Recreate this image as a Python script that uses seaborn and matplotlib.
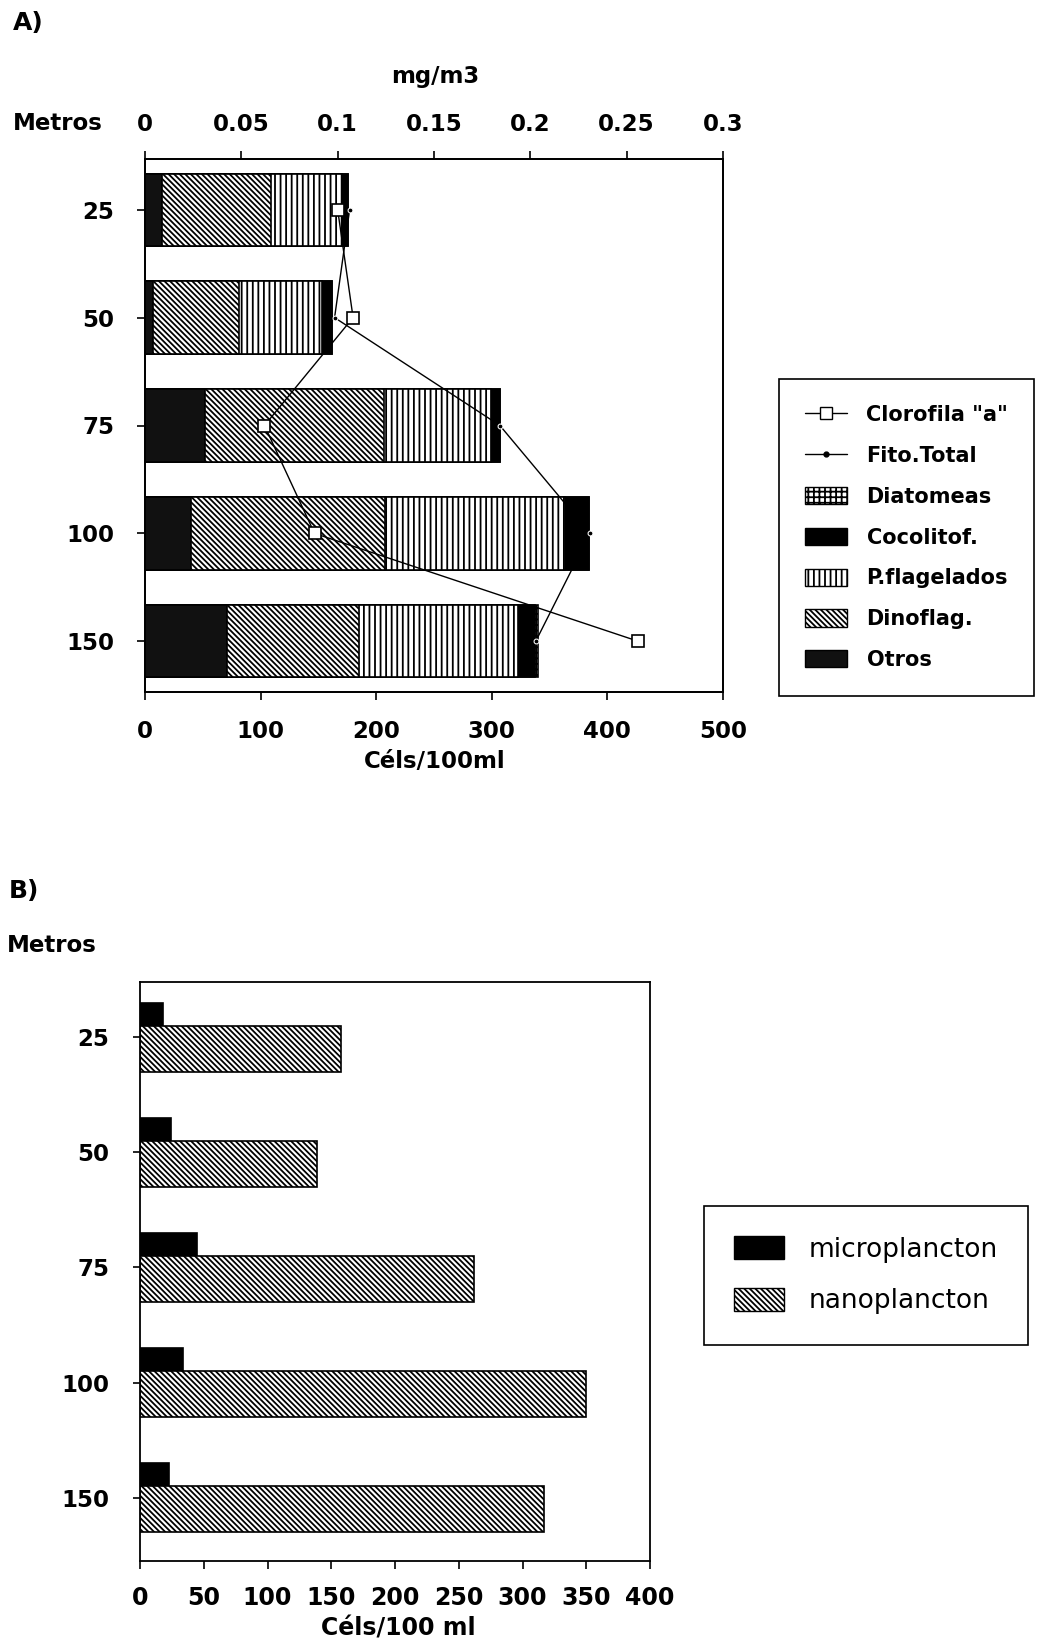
import numpy as np
import pandas as pd
import matplotlib
matplotlib.use("Agg")
import matplotlib.pyplot as plt
from matplotlib.patches import Patch
from matplotlib.lines import Line2D
import seaborn as sns

depths = ["25", "50", "75", "100", "150"]

# A) Cels/100ml por grupo, en el orden de apilado (izquierda -> derecha)
otros = [15, 7, 52, 40, 71]
dinoflag = [94, 74, 155, 168, 114]
pflagelados = [61, 72, 92, 155, 138]
cocolitof = [6, 9, 8, 21, 14]
diatomeas = [0, 0, 0, 0, 3]
fito_total = [177, 164, 307, 385, 338]
clorofila = [0.100, 0.108, 0.062, 0.088, 0.256]  # mg/m3

# B) Cels/100 ml
microplancton = [18, 24, 45, 34, 23]
nanoplancton = [158, 139, 262, 350, 317]

cel_ticks = [0, 100, 200, 300, 400, 500]
chl_ticks = [0, 0.05, 0.1, 0.15, 0.2, 0.25, 0.3]
chl_ticklabels = ["0", "0.05", "0.1", "0.15", "0.2", "0.25", "0.3"]
b_ticks = [0, 50, 100, 150, 200, 250, 300, 350, 400]

sns.set_style("ticks", rc={"axes.edgecolor": "black", "text.color": "black",
                           "axes.labelcolor": "black", "xtick.color": "black",
                           "ytick.color": "black"})
plt.rcParams["font.family"] = ["DejaVu Sans"]
plt.rcParams["font.weight"] = "bold"
plt.rcParams["hatch.linewidth"] = 1.3
plt.rcParams["axes.linewidth"] = 1.3

W, H = 1048, 1643
fx = lambda px: px / W
fy = lambda py: 1 - py / H

df = pd.DataFrame({"depth": depths, "otros": otros, "dinoflag": dinoflag,
                   "pflagelados": pflagelados, "cocolitof": cocolitof,
                   "diatomeas": diatomeas})
cols = ["otros", "dinoflag", "pflagelados", "cocolitof", "diatomeas"]
cum = df[cols].cumsum(axis=1)

DIAG = "\\" * 6
VERT = "|||"
GRID = "+++"
styles = {
    "diatomeas": dict(color="white", hatch=GRID),
    "cocolitof": dict(color="black"),
    "pflagelados": dict(color="white", hatch=VERT),
    "dinoflag": dict(color="white", hatch=DIAG),
    "otros": dict(color="#111111"),
}

fig = plt.figure(figsize=(W / 100, H / 100), dpi=100)

# ---------------- A) ----------------
ax = fig.add_axes([fx(145), fy(692), (723 - 145) / W, (692 - 159) / H])
for col in reversed(cols):
    sns.barplot(x=cum[col], y=df["depth"], orient="h", width=0.67, saturation=1,
                edgecolor="black", linewidth=1.2, ax=ax, **styles[col])

ypos = np.arange(len(depths))
sns.lineplot(x=fito_total, y=ypos, sort=False, estimator=None, orient="y",
             color="black", lw=1, marker="o", markersize=3.5, ax=ax)

ax2 = ax.twiny()
sns.lineplot(x=clorofila, y=ypos, sort=False, estimator=None, orient="y",
             color="black", lw=1, marker="s", markersize=9,
             markerfacecolor="white", markeredgecolor="black",
             markeredgewidth=1.2, ax=ax2)

ax.set_xlim(0, 500)
ax.set_xticks(cel_ticks)
ax2.set_xlim(0, 0.3)
ax2.set_xticks(chl_ticks)
ax2.set_xticklabels(chl_ticklabels)
ax.set_ylim(4.47, -0.47)
ax.set_yticks(ypos)
ax.set_yticklabels(depths)
ax.set_xlabel("")
ax.set_ylabel("")
ax2.set_xlabel("")
ax2.set_ylabel("")
ax.tick_params(axis="x", direction="out", length=6, width=1.2, pad=14, labelsize=16.5)
ax.tick_params(axis="y", direction="out", length=6, width=1.2, pad=16, labelsize=16.5)
ax2.tick_params(axis="x", direction="out", length=6, width=1.2, pad=10.5, labelsize=16.5)

fig.text(fx(13), fy(23), "A)", fontsize=18, ha="left", va="center")
fig.text(fx(435), fy(77), "mg/m3", fontsize=16.5, ha="center", va="center")
fig.text(fx(58), fy(123), "Metros", fontsize=16.5, ha="center", va="center")
fig.text(fx(435), fy(762), "Céls/100ml", fontsize=16.5, ha="center", va="center")

handles_a = [
    Line2D([], [], color="black", lw=1, marker="s", markersize=9,
           markerfacecolor="white", markeredgecolor="black"),
    Line2D([], [], color="black", lw=1, marker="o", markersize=3.5),
    Patch(facecolor="white", edgecolor="black", hatch=GRID),
    Patch(facecolor="black", edgecolor="black"),
    Patch(facecolor="white", edgecolor="black", hatch=VERT),
    Patch(facecolor="white", edgecolor="black", hatch=DIAG),
    Patch(facecolor="#111111", edgecolor="black"),
]
labels_a = ['Clorofila "a"', "Fito.Total", "Diatomeas", "Cocolitof.",
            "P.flagelados", "Dinoflag.", "Otros"]
leg_a = fig.legend(handles_a, labels_a, loc="upper left",
                   bbox_to_anchor=(fx(779), fy(379)), borderaxespad=0,
                   frameon=True, fancybox=False, framealpha=1, edgecolor="black",
                   prop={"weight": "bold", "size": 15}, labelspacing=1.0,
                   borderpad=1.25, handlelength=2.0, handleheight=0.9,
                   handletextpad=0.95)
leg_a.get_frame().set_linewidth(1.2)

# ---------------- B) ----------------
axb = fig.add_axes([fx(140), fy(1561), (650 - 140) / W, (1561 - 982) / H])
bpos = np.arange(len(depths))
sns.barplot(x=microplancton, y=bpos - 0.1, orient="h", native_scale=True,
            width=0.4, color="black", saturation=1, edgecolor="black",
            linewidth=1.2, ax=axb)
sns.barplot(x=nanoplancton, y=bpos + 0.1, orient="h", native_scale=True,
            width=0.4, color="white", hatch=DIAG, saturation=1,
            edgecolor="black", linewidth=1.2, ax=axb)
axb.set_xlim(0, 400)
axb.set_xticks(b_ticks)
axb.set_ylim(4.55, -0.48)
axb.set_yticks(bpos)
axb.set_yticklabels(depths)
axb.set_xlabel("")
axb.set_ylabel("")
axb.tick_params(axis="x", direction="out", length=6, width=1.2, pad=12, labelsize=17)
axb.tick_params(axis="y", direction="out", length=5, width=1.2, pad=17, labelsize=16.5)

fig.text(fx(9), fy(891), "B)", fontsize=18, ha="left", va="center")
fig.text(fx(52), fy(945), "Metros", fontsize=16.5, ha="center", va="center")
fig.text(fx(398), fy(1629), "Céls/100 ml", fontsize=17, ha="center", va="center")

handles_b = [Patch(facecolor="black", edgecolor="black"),
             Patch(facecolor="white", edgecolor="black", hatch=DIAG)]
leg_b = fig.legend(handles_b, ["microplancton", "nanoplancton"], loc="upper left",
                   bbox_to_anchor=(fx(704), fy(1206)), borderaxespad=0,
                   frameon=True, fancybox=False, framealpha=1, edgecolor="black",
                   prop={"weight": "normal", "size": 19}, labelspacing=0.95,
                   borderpad=1.15, handlelength=1.9, handleheight=0.95,
                   handletextpad=0.9)
leg_b.get_frame().set_linewidth(1.2)

fig.savefig("out.png", dpi=100)
